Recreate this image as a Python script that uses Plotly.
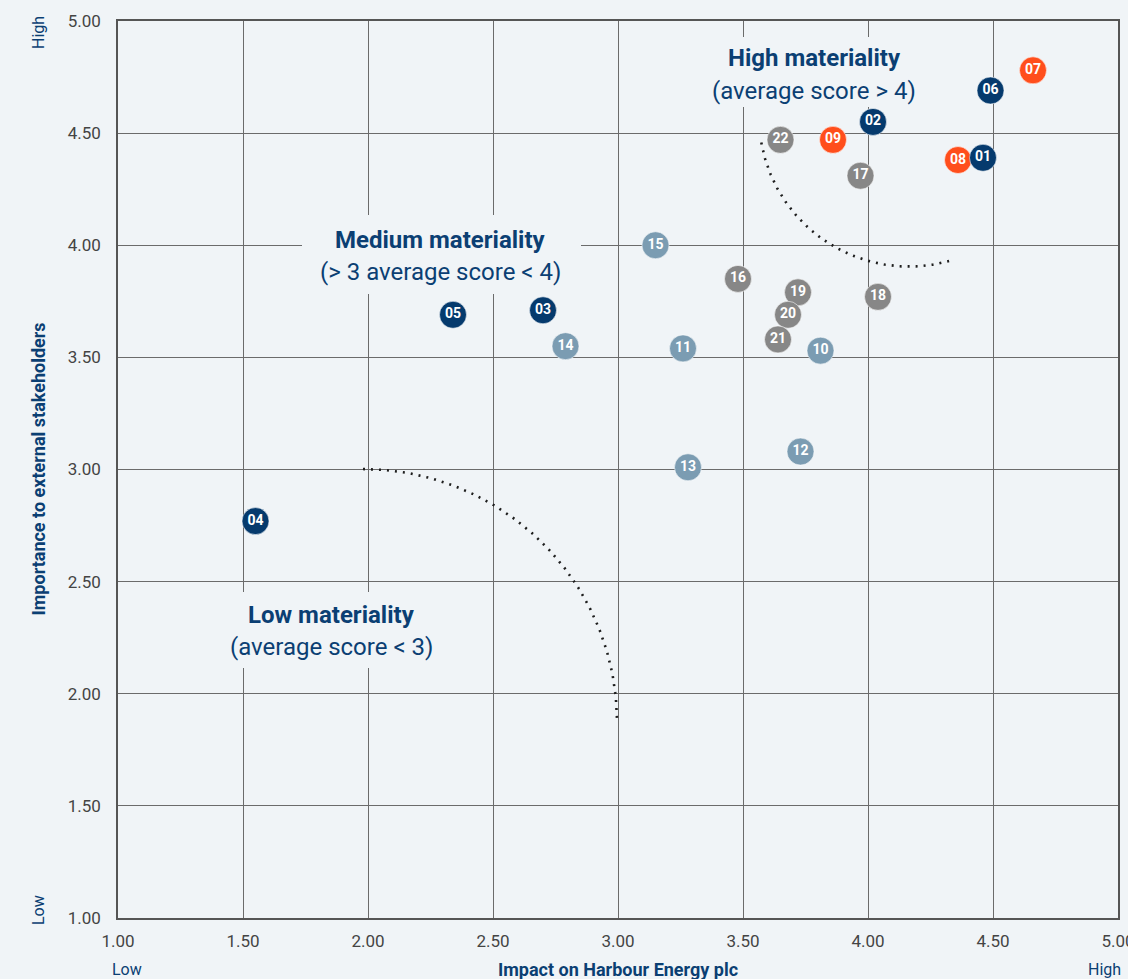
import numpy as np
import plotly.graph_objects as go

# Materiality topics: id, impact on the company (x), importance to stakeholders (y)
topic_ids = ["01", "02", "03", "04", "05", "06", "07", "08", "09", "10", "11",
             "12", "13", "14", "15", "16", "17", "18", "19", "20", "21", "22"]
impact = [4.46, 4.02, 2.70, 1.55, 2.34, 4.49, 4.66, 4.36, 3.86, 3.81, 3.26,
          3.73, 3.28, 2.79, 3.15, 3.48, 3.97, 4.04, 3.72, 3.68, 3.64, 3.65]
importance = [4.39, 4.55, 3.71, 2.77, 3.69, 4.69, 4.78, 4.38, 4.47, 3.53, 3.54,
              3.08, 3.01, 3.55, 4.00, 3.85, 4.31, 3.77, 3.79, 3.69, 3.58, 4.47]
topic_group = ["navy"] * 6 + ["orange"] * 3 + ["steel"] * 6 + ["grey"] * 7

tick_values = [1.0, 1.5, 2.0, 2.5, 3.0, 3.5, 4.0, 4.5, 5.0]
tick_labels = ["1.00", "1.50", "2.00", "2.50", "3.00", "3.50", "4.00", "4.50", "5.00"]

group_colors = {
    "grey": "#878787",
    "steel": "#7b9cb2",
    "orange": "#ff4e1c",
    "navy": "#053a6d",
}
draw_order = ["grey", "steel", "orange", "navy"]

BG = "#f0f4f7"
NAVY = "#0b3f73"
GRID = "#6b6b6b"
FONT = "Roboto, Arial, sans-serif"

fig = go.Figure()

# Dotted boundaries between materiality zones (circular arcs in screen space)
def arc(cx, cy, rx, ry, a0, a1, n=120):
    t = np.radians(np.linspace(a0, a1, n))
    return cx + rx * np.cos(t), cy + ry * np.sin(t)

lx, ly = arc(1.98, 1.874, 1.016, 1.128, 90, 0)
hx, hy = arc(4.164, 4.574, 0.600, 0.669, 190, 285.5)
for xs, ys in [(lx, ly), (hx, hy)]:
    fig.add_trace(go.Scatter(
        x=xs, y=ys, mode="lines", hoverinfo="skip", showlegend=False,
        line=dict(color="#1e1e1e", width=2.6, dash="2px,6px"),
    ))

for g in draw_order:
    idx = [i for i, gg in enumerate(topic_group) if gg == g]
    fig.add_trace(go.Scatter(
        x=[impact[i] for i in idx],
        y=[importance[i] for i in idx],
        text=[topic_ids[i] for i in idx],
        mode="markers+text",
        textposition="middle center",
        textfont=dict(family=FONT, size=14, color="white", weight="bold"),
        marker=dict(size=27, color=group_colors[g],
                    line=dict(color="rgba(255,255,255,0.55)", width=1)),
        showlegend=False,
        hovertemplate="%{text}: %{x:.2f}, %{y:.2f}<extra></extra>",
    ))

# Background patches behind the zone labels, hiding the grid there
label_boxes = [
    (3.33, 4.25, 4.617, 4.929),
    (1.736, 2.852, 3.783, 4.135),
    (1.388, 2.328, 2.115, 2.454),
]
shapes = []
for x0, x1, y0, y1 in label_boxes:
    shapes.append(dict(type="rect", xref="x", yref="y", x0=x0, x1=x1, y0=y0, y1=y1,
                       fillcolor=BG, line=dict(width=0), layer="between"))

zone_labels = [
    (3.785, 4.835, "High materiality", "(average score > 4)"),
    (2.29, 4.025, "Medium materiality", "(> 3 average score < 4)"),
    (1.852, 2.352, "Low materiality", "(average score < 3)"),
]
annotations = []
for x, y, title, sub in zone_labels:
    annotations.append(dict(x=x, y=y, xref="x", yref="y", text=title, showarrow=False,
                            font=dict(family=FONT, size=24, color=NAVY, weight="bold")))
    annotations.append(dict(x=x, y=y - 0.145, xref="x", yref="y", text=sub, showarrow=False,
                            font=dict(family=FONT, size=24, color=NAVY)))

# Axis titles and Low/High end labels
bottom = dict(xref="paper", yref="paper", y=0.0, yshift=-51, xanchor="center",
              yanchor="middle", showarrow=False)
left = dict(xref="paper", yref="paper", x=0.0, xshift=-80, xanchor="center",
            yanchor="middle", textangle=-90, showarrow=False)
annotations += [
    dict(bottom, x=0.5, text="<b>Impact on Harbour Energy plc</b>",
         font=dict(family=FONT, size=18, color=NAVY)),
    dict(bottom, x=0.009, text="Low", font=dict(family=FONT, size=16, color=NAVY)),
    dict(bottom, x=0.986, text="High", font=dict(family=FONT, size=16, color=NAVY)),
    dict(left, y=0.5, text="<b>Importance to external stakeholders</b>",
         font=dict(family=FONT, size=18, color=NAVY)),
    dict(left, y=0.9866, text="High", font=dict(family=FONT, size=16, color=NAVY)),
    dict(left, y=0.0089, text="Low", font=dict(family=FONT, size=16, color=NAVY)),
]

axis_common = dict(
    range=[1.0, 5.0], tickvals=tick_values, ticktext=tick_labels,
    showgrid=True, gridcolor=GRID, gridwidth=1,
    showline=True, linecolor="#555555", linewidth=1.5, mirror=True,
    zeroline=False, ticks="", ticklabeloverflow="allow",
    automargin=False,
    tickfont=dict(family=FONT, size=17, color="#444444"),
)

fig.update_layout(
    width=1128, height=979,
    margin=dict(l=118, r=10, t=21, b=61, autoexpand=False),
    paper_bgcolor=BG, plot_bgcolor=BG,
    xaxis=dict(axis_common, ticklabelstandoff=7),
    yaxis=dict(axis_common, ticklabelstandoff=12),
    shapes=shapes, annotations=annotations,
    showlegend=False,
)

fig.write_html("out.html")
